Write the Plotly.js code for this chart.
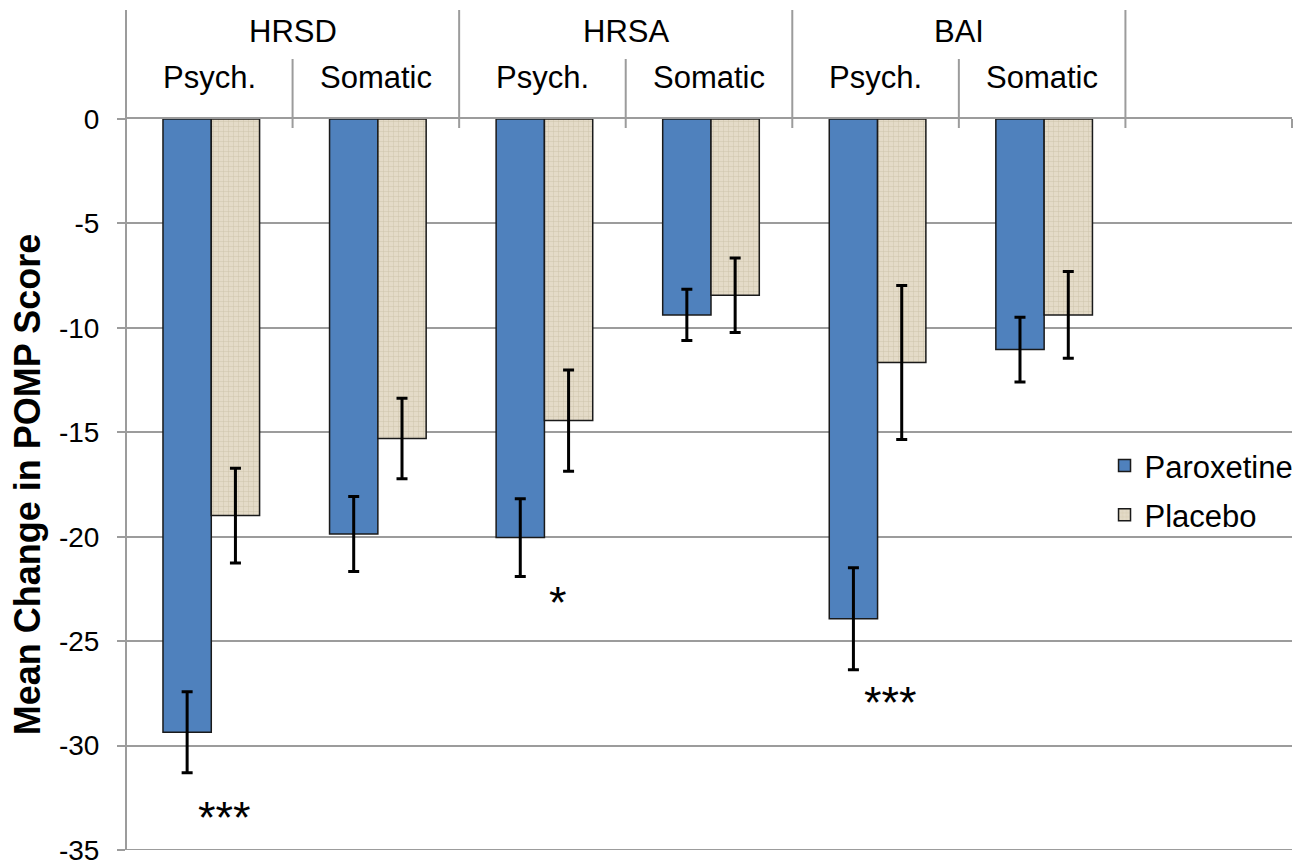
<!DOCTYPE html>
<html>
<head>
<meta charset="utf-8">
<script src="https://cdn.plot.ly/plotly-3.0.1.min.js"></script>
<style>html,body{margin:0;padding:0;background:#fff;}#chart{width:1310px;height:863px;}#err{position:absolute;left:0;top:0;font:14px monospace;color:red;white-space:pre-wrap;width:1300px;}</style>
</head>
<body>
<div id="chart"></div>
<div id="err"></div>
<script>
// ---- data ----
var groups = ['HRSD', 'HRSA', 'BAI'];
var subcategories = ['Psych.', 'Somatic', 'Psych.', 'Somatic', 'Psych.', 'Somatic'];
var paroxetine = [-29.36, -19.87, -20.04, -9.38, -23.93, -11.04];
var paroxetineErr = [1.94, 1.80, 1.86, 1.23, 2.44, 1.55];
var placebo = [-18.99, -15.30, -14.44, -8.44, -11.66, -9.38];
var placeboErr = [2.27, 1.93, 2.42, 1.78, 3.69, 2.08];
var significance = ['***', '', '*', '', '***', ''];
var sigY = [-33.45, null, -23.15, null, -27.95, null];
var yTicks = [0, -5, -10, -15, -20, -25, -30, -35];
var yTickText = ['0', '-5', '-10', '-15', '-20', '-25', '-30', '-35'];

(function () {
var FONT = 'Liberation Sans, Arial, sans-serif';
var GRAY = '#9c9c9c';
var xs = subcategories.map(function (_, i) { return i; });
var nSlots = subcategories.length + 1;

var traces = [
  {
    type: 'bar', name: 'Paroxetine', x: xs, y: paroxetine, legendgroup: 'a',
    marker: { color: '#4f81bd', line: { color: '#1a1a1a', width: 1.5 } },
    error_y: { type: 'data', array: paroxetineErr, visible: true, color: '#000', thickness: 3, width: 5.5 }
  },
  {
    type: 'bar', name: 'Placebo', x: xs, y: placebo, legendgroup: 'b',
    marker: {
      color: '#e2d9c5', line: { color: '#1a1a1a', width: 1.5 },
      pattern: { shape: '+', bgcolor: '#e4dbc8', fgcolor: '#c9bda3', size: 5, solidity: 0.15 }
    },
    error_y: { type: 'data', array: placeboErr, visible: true, color: '#000', thickness: 3, width: 5.5 }
  }
];

var plotH = 731;
var shapes = [];
for (var k = 0; k <= nSlots; k++) {
  var topY;
  if (k === nSlots) topY = 1;
  else if (k % 2 === 0) topY = 1 + 109 / plotH;
  else topY = 1 + 60 / plotH;
  shapes.push({ type: 'line', xref: 'paper', yref: 'paper', x0: k / nSlots, x1: k / nSlots,
    y0: 1 - 9 / plotH, y1: topY, line: { color: GRAY, width: 2 } });
}
// left axis line (full height) and bottom gridline
shapes.push({ type: 'line', xref: 'paper', yref: 'paper', x0: 0, x1: 0, y0: 0, y1: 1 + 109 / plotH,
  line: { color: GRAY, width: 2 } });
shapes.push({ type: 'line', xref: 'paper', yref: 'y', x0: 0, x1: 1, y0: yTicks[yTicks.length - 1],
  y1: yTicks[yTicks.length - 1], line: { color: GRAY, width: 2 } });

var annotations = [];
groups.forEach(function (g, i) {
  annotations.push({ text: g, xref: 'paper', yref: 'paper', x: (2 * i + 1) / nSlots, y: 1 + 87 / plotH,
    showarrow: false, xanchor: 'center', yanchor: 'middle', font: { family: FONT, size: 31, color: '#000' } });
});
subcategories.forEach(function (s, i) {
  annotations.push({ text: s, xref: 'paper', yref: 'paper', x: (i + 0.5) / nSlots, y: 1 + 42 / plotH,
    showarrow: false, xanchor: 'center', yanchor: 'middle', font: { family: FONT, size: 31, color: '#000' } });
});
significance.forEach(function (s, i) {
  if (!s) return;
  annotations.push({ text: s, xref: 'x', yref: 'y', x: i + 0.08, y: sigY[i],
    showarrow: false, xanchor: 'center', yanchor: 'middle', font: { family: FONT, size: 45, color: '#000' } });
});

var layout = {
  width: 1310, height: 863,
  margin: { l: 126, r: 17, t: 119, b: 13 },
  paper_bgcolor: '#fff', plot_bgcolor: '#fff',
  font: { family: FONT, size: 28, color: '#000' },
  barmode: 'group', bargap: 0.42, bargroupgap: 0,
  showlegend: true,
  legend: { x: 0.8385, y: 0.492, xanchor: 'left', yanchor: 'middle', traceorder: 'grouped',
    tracegroupgap: 6, font: { family: FONT, size: 31, color: '#000' }, bgcolor: 'rgba(0,0,0,0)' },
  xaxis: { range: [-0.512, 6.488], showgrid: false, zeroline: false, showticklabels: false,
    side: 'top', showline: true, linecolor: GRAY, linewidth: 2, ticks: '', fixedrange: true },
  yaxis: { range: [-35, 0], tickvals: yTicks, ticktext: yTickText, ticks: 'outside',
    ticklen: 8, tickwidth: 2, tickcolor: GRAY, showgrid: true, gridcolor: GRAY, gridwidth: 2,
    ticklabelstandoff: 12, ticklabeloverflow: 'allow',
    zeroline: false, showline: false, tickfont: { family: FONT, size: 28, color: '#000' },
    title: { text: '<b>Mean Change in POMP Score</b>', standoff: 7,
      font: { family: FONT, size: 36, color: '#000' } } },
  shapes: shapes,
  annotations: annotations
};

function showErr(e) { document.getElementById('err').textContent = String(e && e.stack || e); }
try {
  var p = Plotly.newPlot('chart', traces, layout, { displayModeBar: false, staticPlot: true });
  if (p && p.catch) p.catch(showErr);
} catch (e) { showErr(e); }
})();
</script>
</body>
</html>
